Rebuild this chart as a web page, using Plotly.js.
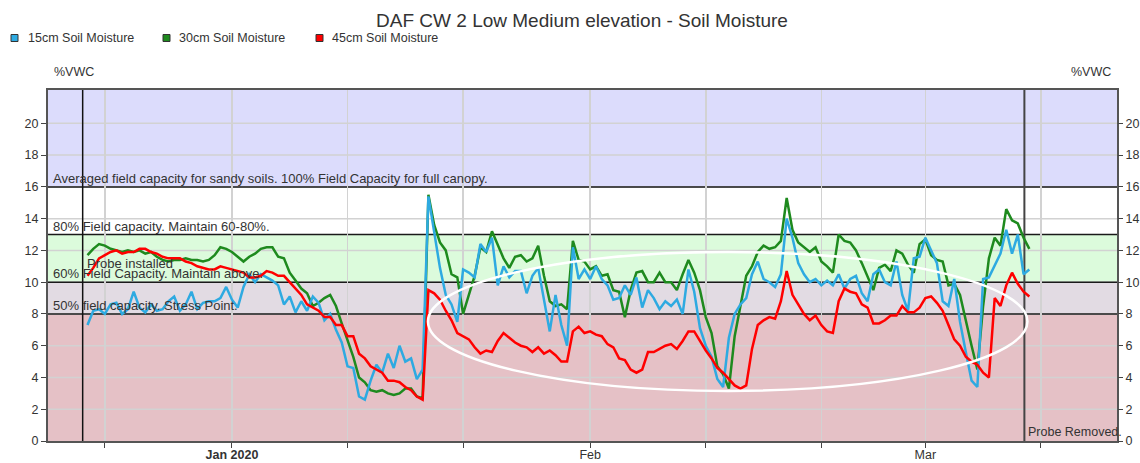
<!DOCTYPE html>
<html>
<head>
<meta charset="utf-8">
<script src="https://cdn.plot.ly/plotly-3.0.1.min.js"></script>
<style>
  html, body { margin: 0; padding: 0; background: #ffffff; }
  #chart { width: 1140px; height: 463px; }
</style>
</head>
<body>
<div id="chart"></div>
<script>
// ---- Data ----
const seriesNames = ['15cm Soil Moisture', '30cm Soil Moisture', '45cm Soil Moisture'];
const seriesColors = ['#2eaae1', '#1e8a1e', '#ff0000'];

// readings every 12 hours starting at this time
const startTime = '2019-12-19T12:00:00Z';
const stepHours = 12;

const moisture15cm = [
  7.3, 8.2, 8.3, 8.0, 8.6, 8.7, 8.0, 8.3, 9.4, 8.4,
  8.1, 8.6, 8.2, 8.3, 8.8, 9.1, 8.2, 8.6, 9.4, 8.3,
  8.7, 8.8, 8.8, 9.0, 9.7, 8.9, 8.4, 9.7, 10.5, 10.0,
  10.5, 10.3, 10.1, 9.8, 8.6, 9.1, 8.1, 8.8, 8.2, 9.1,
  8.7, 7.6, 8.0, 7.0, 6.2, 4.7, 4.6, 2.8, 2.6, 3.8,
  4.8, 4.3, 5.5, 4.6, 6.0, 5.0, 5.2, 3.9, 4.5, 15.4,
  13.0, 10.9, 9.2, 8.6, 7.5, 10.8, 10.6, 10.3, 12.4, 11.9,
  12.8, 9.8, 11.0, 10.3, 10.7, 10.7, 9.3, 10.4, 10.9, 8.9,
  6.9, 9.2, 7.3, 6.0, 12.2, 10.2, 10.8, 10.2, 11.0, 10.2,
  9.8, 8.9, 9.0, 9.8, 9.2, 10.3, 8.4, 9.5, 9.0, 8.3,
  8.8, 8.5, 8.9, 8.0, 10.8, 9.4, 7.1, 6.0, 5.3, 3.9,
  3.4, 6.5, 8.0, 8.6, 9.0, 10.5, 11.3, 10.2, 10.0, 9.7,
  10.5, 14.0, 12.8, 11.2, 10.5, 10.0, 10.2, 9.8, 10.1, 9.8,
  10.5, 9.6, 10.2, 10.4, 9.3, 8.8, 10.5, 10.8, 10.0, 9.8,
  11.3, 9.2, 8.2, 11.5, 11.6, 12.8, 12.0, 11.2, 8.8, 8.5,
  10.2, 7.5, 5.6, 3.8, 3.4, 10.2, 10.3, 11.0, 11.8, 13.3,
  11.8, 13.0, 10.5, 10.8
];

const moisture30cm = [
  11.7, 12.1, 12.4, 12.3, 12.1, 12.0, 11.9, 12.0, 11.9, 12.0,
  11.8, 11.9, 11.6, 11.4, 11.3, 11.4, 11.4, 11.5, 11.4, 11.4,
  11.3, 11.4, 11.7, 12.2, 12.1, 11.9, 11.6, 11.3, 11.6, 11.8,
  12.1, 12.2, 12.2, 11.6, 11.5, 10.6, 10.1, 9.6, 9.3, 8.5,
  8.7, 9.0, 9.2, 8.5, 7.4, 6.3, 5.3, 4.0, 3.7, 3.2,
  3.1, 3.2, 3.0, 2.9, 3.0, 3.3, 3.3, 2.8, 2.7, 15.5,
  13.6, 12.5, 12.0, 10.5, 10.3, 8.0, 9.2, 10.4, 12.2, 11.9,
  13.2, 12.4, 11.5, 10.9, 11.6, 11.7, 11.3, 11.5, 12.3, 10.4,
  8.8, 8.5, 8.6, 8.3, 12.6, 11.4, 11.3, 10.8, 11.0, 10.4,
  10.5, 9.5, 9.4, 7.8, 9.5, 10.6, 10.7, 10.0, 10.0, 10.6,
  10.0, 10.0, 9.5, 10.5, 11.4, 10.6, 9.5, 7.8, 6.8, 4.7,
  4.2, 3.3, 6.6, 8.5, 10.4, 11.0, 11.9, 12.3, 12.1, 12.2,
  12.6, 15.3, 13.3, 12.5, 12.2, 11.9, 12.2, 11.3, 11.0, 10.6,
  13.0, 12.6, 12.5, 12.0, 11.2, 10.4, 9.5, 10.9, 11.1, 10.7,
  12.0, 11.8, 11.1, 10.6, 12.4, 12.7, 11.7, 11.4, 11.3, 9.8,
  9.9, 9.2, 7.5, 6.0, 4.5, 8.5, 11.5, 12.8, 12.3, 14.6,
  13.9, 13.7, 12.8, 12.1
];

const moisture45cm = [
  10.4, 10.9, 11.5, 11.7, 11.9, 12.0, 11.8, 11.9, 11.9, 12.1,
  12.1, 11.9, 11.8, 11.6, 11.5, 11.5, 11.5, 11.3, 11.2, 11.0,
  10.9, 10.8, 10.8, 11.0, 10.9, 10.8, 10.7, 10.6, 10.3, 10.3,
  10.4, 10.7, 10.6, 10.4, 10.4, 10.0, 9.6, 9.2, 8.6, 8.4,
  8.2, 7.8, 7.8, 7.3, 7.3, 6.6, 6.6, 5.5, 5.2, 4.7,
  4.5, 4.3, 3.8, 3.8, 3.7, 3.4, 3.2, 2.8, 2.6, 9.5,
  9.3, 8.9, 8.2, 7.6, 6.8, 6.6, 6.4, 5.9, 5.5, 5.7,
  5.6, 6.3, 6.8, 6.5, 6.2, 6.0, 5.9, 5.6, 5.9, 5.5,
  5.7, 5.4, 5.0, 5.0, 6.9, 7.2, 6.8, 6.9, 6.7, 6.6,
  6.1, 5.9, 5.2, 5.1, 4.5, 4.3, 4.5, 5.6, 5.6, 5.8,
  6.0, 6.1, 5.8, 6.3, 6.9, 6.9, 6.3, 5.7, 5.2, 4.6,
  4.3, 3.9, 3.5, 3.3, 3.5, 5.8, 7.3, 7.6, 7.8, 7.7,
  8.8, 10.7, 9.2, 8.6, 8.0, 7.6, 7.9, 7.3, 6.9, 6.8,
  8.8, 9.6, 9.4, 9.3, 8.6, 8.4, 7.4, 7.4, 7.6, 7.9,
  7.9, 8.5, 8.1, 8.1, 8.4, 9.0, 9.1, 8.7, 8.2, 7.3,
  6.4, 6.0, 5.3, 5.0, 4.8, 4.3, 4.0, 9.0, 8.5, 9.8,
  10.6, 9.9, 9.4, 9.1
];

// x-axis ticks
const tickDates = ['2019-12-21', '2020-01-01', '2020-01-11', '2020-01-21', '2020-02-01',
                   '2020-02-11', '2020-02-21', '2020-03-01', '2020-03-11'];
const tickLabels = ['', '<b>Jan 2020</b>', '', '', 'Feb', '', '', 'Mar', ''];
const yTicks = [0, 2, 4, 6, 8, 10, 12, 14, 16, 18, 20];

// zones (field capacity bands)
const zoneBounds = [0, 8, 10, 13, 16, 22.1];
const zoneColors = ['#e5c1c6', '#e2dbe3', '#dcfbdc', '#ffffff', '#dcdcfc'];
const zoneLabels = [
  '50% field capacity. Stress Point.',
  '60% Field Capacity. Maintain above.',
  '80% Field capacity. Maintain 60-80%.',
  'Averaged field capacity for sandy soils. 100% Field Capacity for full canopy.'
];
const zoneLines = [8, 10, 13, 16];

const probeInstalled = '2019-12-19 02:00';
const probeRemoved = '2020-03-09 13:40';
const highlight = { x0: '2020-01-17 23:00', x1: '2020-03-09 20:00', y0: 3.15, y1: 11.9 };

// ---- Build ----
function buildTimes(n) {
  const t0 = Date.parse(startTime);
  const out = [];
  for (let i = 0; i < n; i++) {
    const d = new Date(t0 + i * stepHours * 3600 * 1000);
    out.push(d.toISOString().slice(0, 16).replace('T', ' '));
  }
  return out;
}

const values = [moisture15cm, moisture30cm, moisture45cm];
const drawOrder = [1, 0, 2];
const traces = drawOrder.map((k, j) => ({
  type: 'scatter',
  mode: 'lines',
  name: seriesNames[k],
  x: buildTimes(values[k].length),
  y: values[k],
  yaxis: j === drawOrder.length - 1 ? 'y2' : 'y',
  line: { color: seriesColors[k], width: 2.5 },
  showlegend: false
}));

// pixel -> paper helpers for the page furniture
const PL = 48, PR = 1117, PT = 90, PB = 441;
const ppx = x => (x - PL) / (PR - PL);
const ppy = y => (PB - y) / (PB - PT);

const FONT = 'Liberation Sans, Arial, sans-serif';
const TXT = '#333333';
const GRID = '#d2d2d2';

const shapes = [];
for (let i = 0; i < zoneColors.length; i++) {
  shapes.push({ type: 'rect', xref: 'paper', yref: 'y', x0: 0, x1: 1,
    y0: zoneBounds[i], y1: zoneBounds[i + 1], fillcolor: zoneColors[i],
    line: { width: 0 }, layer: 'below' });
}
// horizontal grid lines at the y ticks
yTicks.filter(v => v > 0).forEach(v => shapes.push({ type: 'line', xref: 'paper', yref: 'y',
  x0: 0, x1: 1, y0: v, y1: v, line: { color: GRID, width: 1.5 }, layer: 'below' }));
zoneLines.forEach(v => shapes.push({ type: 'line', xref: 'paper', yref: 'y', x0: 0, x1: 1,
  y0: v, y1: v, line: { color: v === 8 ? '#4a4a4a' : '#1a1a1a', width: v === 8 ? 2 : 1.5 },
  layer: 'between' }));
shapes.push({ type: 'line', xref: 'x', yref: 'paper', x0: probeInstalled, x1: probeInstalled,
  y0: 0, y1: 1, line: { color: '#111111', width: 1.5 }, layer: 'between' });
shapes.push({ type: 'line', xref: 'x', yref: 'paper', x0: probeRemoved, x1: probeRemoved,
  y0: 0, y1: 1, line: { color: '#444444', width: 2 }, layer: 'between' });
shapes.push({ type: 'circle', xref: 'x', yref: 'y', x0: highlight.x0, x1: highlight.x1,
  y0: highlight.y0, y1: highlight.y1, line: { color: '#ffffff', width: 2.5 }, layer: 'above' });

// legend squares
const legendSquareX = [11, 163, 316];
const legendTextX = [26, 177, 330];
legendSquareX.forEach((sx, k) => shapes.push({ type: 'rect', xref: 'paper', yref: 'paper',
  x0: ppx(sx), x1: ppx(sx + 7), y0: ppy(41.5), y1: ppy(34.5),
  fillcolor: seriesColors[k], line: { color: '#333333', width: 1 } }));

const annotations = [];
legendTextX.forEach((tx, k) => annotations.push({ xref: 'paper', yref: 'paper',
  x: ppx(tx), y: ppy(38), xanchor: 'left', yanchor: 'middle', showarrow: false,
  text: seriesNames[k], font: { family: FONT, size: 12.5, color: TXT } }));

zoneLines.forEach((v, k) => annotations.push({ xref: 'paper', yref: 'y', x: ppx(51), y: v,
  xanchor: 'left', yanchor: 'bottom', yshift: -1, showarrow: false, text: zoneLabels[k],
  font: { family: FONT, size: 13, color: TXT } }));

annotations.push({ xref: 'x', yref: 'y', x: probeInstalled, y: 11.15, xanchor: 'left',
  yanchor: 'middle', xshift: 2, showarrow: false, text: 'Probe installed',
  font: { family: FONT, size: 13, color: TXT } });
annotations.push({ xref: 'x', yref: 'y', x: probeRemoved, y: 0.55, xanchor: 'left',
  yanchor: 'middle', xshift: 2, showarrow: false, text: 'Probe Removed.',
  font: { family: FONT, size: 12.5, color: TXT } });
annotations.push({ xref: 'paper', yref: 'paper', x: ppx(52), y: ppy(72), xanchor: 'left',
  yanchor: 'middle', showarrow: false, text: '%VWC', font: { family: FONT, size: 12.5, color: TXT } });
annotations.push({ xref: 'paper', yref: 'paper', x: ppx(1113), y: ppy(72), xanchor: 'right',
  yanchor: 'middle', showarrow: false, text: '%VWC', font: { family: FONT, size: 12.5, color: TXT } });

const yRange = [0, 22.1];
const axisCommon = {
  ticks: 'outside', ticklen: 5, tickwidth: 1, tickcolor: '#444444',
  tickfont: { family: FONT, size: 12.5, color: TXT },
  zeroline: false
};

const layout = {
  width: 1140, height: 463,
  margin: { l: PL, r: 1140 - PR, t: PT, b: 463 - PB, pad: 0 },
  paper_bgcolor: '#ffffff', plot_bgcolor: '#ffffff',
  showlegend: false,
  title: { text: 'DAF CW 2 Low Medium elevation - Soil Moisture',
    x: 582 / 1140, xanchor: 'center', y: 1 - 20 / 463, yanchor: 'middle',
    font: { family: FONT, size: 19, color: TXT } },
  xaxis: Object.assign({}, axisCommon, {
    type: 'date', range: ['2019-12-16 02:00', '2020-03-17 14:00'],
    tickmode: 'array', tickvals: tickDates, ticktext: tickLabels,
    ticklabelstandoff: -4,
    showgrid: true, gridcolor: GRID, gridwidth: 1.5,
    showline: true, linecolor: '#555555', linewidth: 2, mirror: true
  }),
  yaxis: Object.assign({}, axisCommon, {
    range: yRange, tickmode: 'array', tickvals: yTicks,
    showgrid: false,
    showline: true, linecolor: '#555555', linewidth: 2, mirror: true
  }),
  yaxis2: Object.assign({}, axisCommon, {
    range: yRange, tickmode: 'array', tickvals: yTicks,
    overlaying: 'y', side: 'right', showgrid: false, showline: false
  }),
  shapes: shapes,
  annotations: annotations,
  hovermode: false
};

Plotly.newPlot('chart', traces, layout, { displayModeBar: false, staticPlot: true });
</script>
</body>
</html>
